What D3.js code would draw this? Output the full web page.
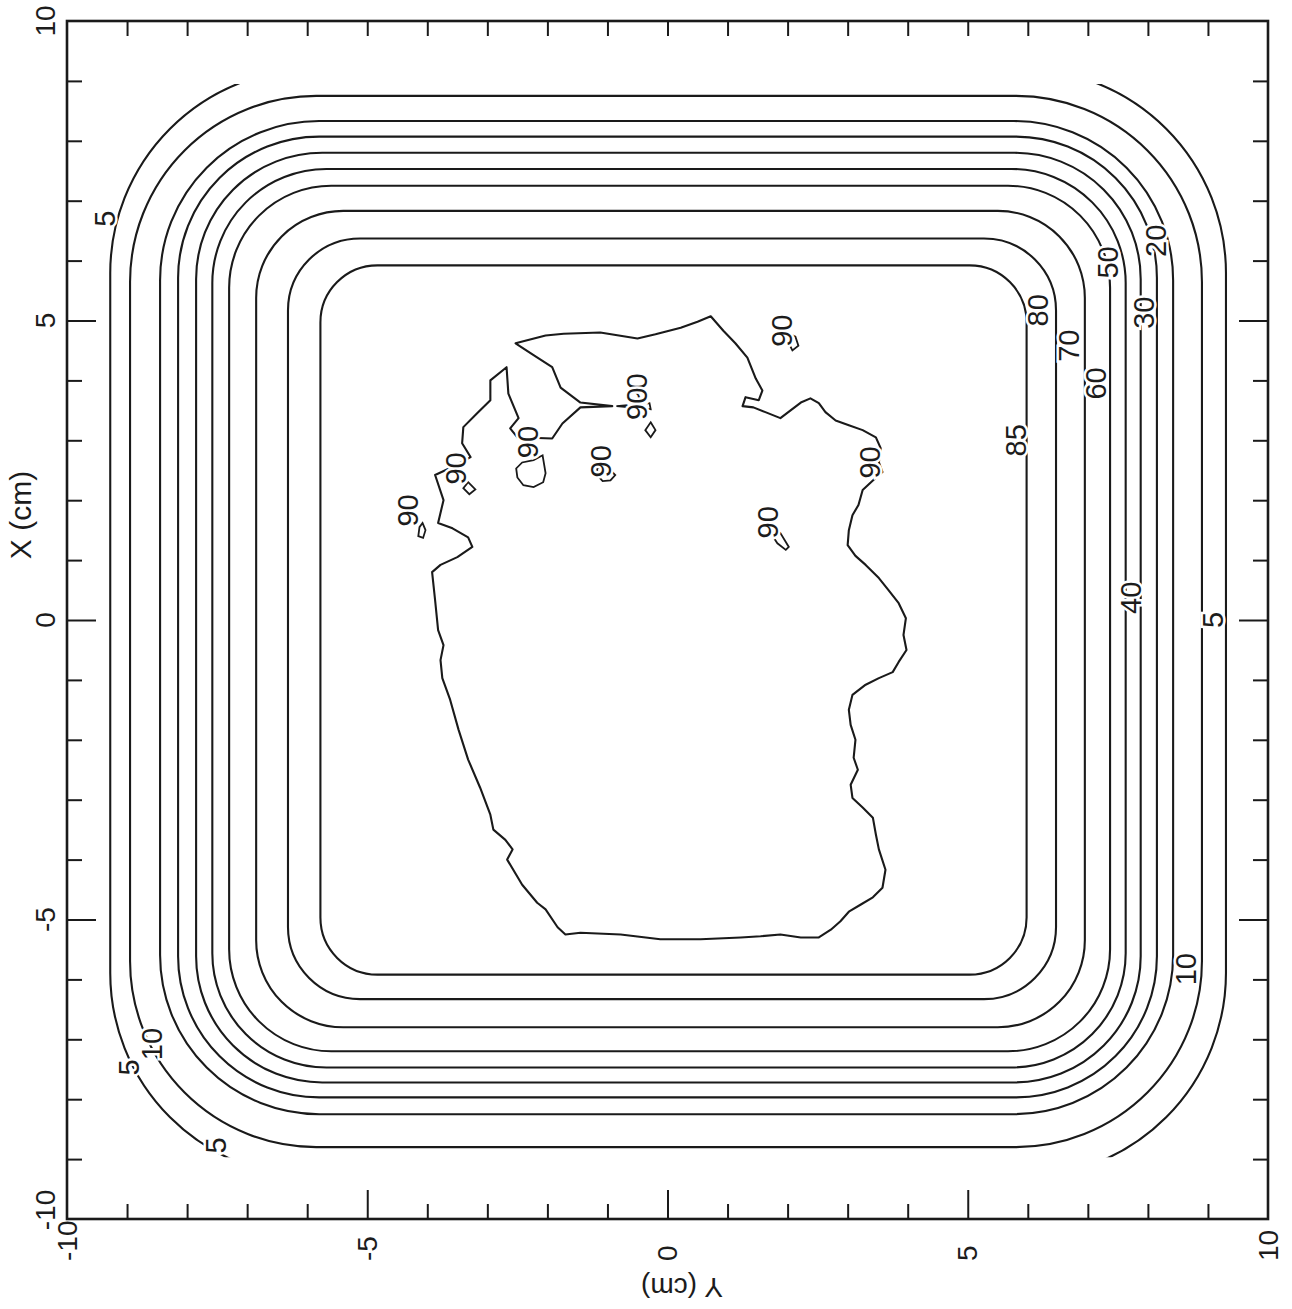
<!DOCTYPE html>
<html>
<head>
<meta charset="utf-8">
<script src="https://cdn.jsdelivr.net/npm/d3@7"></script>
<style>
  html, body { margin: 0; padding: 0; background: #fff; }
  svg { display: block; }
  text { font-family: "Liberation Sans", "DejaVu Sans", sans-serif; fill: #1c1c1c; }
</style>
</head>
<body>
<svg id="chart" width="1292" height="1309"></svg>
<script>
// ---------------- DATA (cm) ----------------
// Isodose levels (%), outermost first
const levels      = [5, 10, 20, 30, 40, 50, 60, 70, 80, 85];
// extents of each isodose line: Y (horizontal axis) left/right, X (vertical axis) top/bottom
const leftEdge    = [-9.28, -8.95, -8.45, -8.15, -7.85, -7.58, -7.30, -6.85, -6.32, -5.78];
const rightEdge   = [ 9.30,  8.90,  8.42,  8.15,  7.88,  7.63,  7.37,  6.95,  6.47,  5.98];
const topEdge     = [ 9.20,  8.75,  8.33,  8.07,  7.80,  7.53,  7.25,  6.83,  6.37,  5.92];
const bottomEdge  = [-9.30, -8.80, -8.25, -7.97, -7.72, -7.47, -7.20, -6.80, -6.33, -5.92];
const cornerRadius= [ 3.40,  3.10,  2.65,  2.35,  2.10,  1.90,  1.70,  1.45,  1.20,  0.95];
// extent of the measured grid along X (cm) – the 5 % line leaves it at top and bottom
const gridXRange  = [-8.97, 8.95];

// 90 % island, [Y, X] in cm
const island90 = [
  [-2.53,4.62],[-2.03,4.75],[-1.73,4.78],[-1.12,4.80],[-0.50,4.70],[-0.20,4.77],[0.22,4.88],[0.50,4.98],
  [0.72,5.07],[0.93,4.83],[1.13,4.62],[1.33,4.38],[1.47,4.03],[1.58,3.83],[1.52,3.67],[1.30,3.72],
  [1.25,3.57],[1.43,3.55],[1.63,3.47],[1.88,3.37],[2.05,3.50],[2.22,3.63],[2.38,3.70],[2.52,3.62],
  [2.63,3.47],[2.80,3.33],[3.02,3.25],[3.25,3.17],[3.47,3.05],[3.55,2.87],[3.52,2.63],[3.58,2.47],
  [3.42,2.33],[3.25,2.17],[3.18,1.92],[3.08,1.75],[3.02,1.50],[3.00,1.25],[3.13,1.07],[3.30,0.92],
  [3.52,0.70],[3.68,0.50],[3.85,0.28],[3.97,0.03],[3.93,-0.25],[3.98,-0.50],[3.85,-0.70],[3.75,-0.87],
  [3.52,-0.97],[3.30,-1.08],[3.08,-1.25],[3.02,-1.50],[3.05,-1.75],[3.13,-2.00],[3.10,-2.30],[3.17,-2.50],
  [3.05,-2.75],[3.08,-2.97],[3.25,-3.13],[3.42,-3.30],[3.47,-3.58],[3.52,-3.83],[3.63,-4.17],[3.58,-4.47],
  [3.42,-4.63],[3.22,-4.75],[3.02,-4.87],[2.88,-5.03],[2.72,-5.17],[2.52,-5.30],[2.22,-5.30],[1.88,-5.25],
  [1.55,-5.28],[1.22,-5.30],[0.55,-5.33],[-0.12,-5.33],[-0.78,-5.25],[-1.45,-5.22],[-1.70,-5.25],[-1.83,-5.13],
  [-2.03,-4.83],[-2.17,-4.72],[-2.42,-4.42],[-2.67,-4.00],[-2.58,-3.83],[-2.70,-3.67],[-2.90,-3.50],[-2.95,-3.25],
  [-3.12,-2.80],[-3.32,-2.33],[-3.48,-1.83],[-3.62,-1.33],[-3.75,-0.97],[-3.78,-0.67],[-3.73,-0.42],[-3.82,-0.17],
  [-3.87,0.33],[-3.92,0.80],[-3.78,0.92],[-3.50,1.05],[-3.25,1.22],[-3.32,1.38],[-3.58,1.53],[-3.82,1.62],
  [-3.73,2.00],[-3.87,2.42],[-3.53,2.58],[-3.28,2.72],[-3.42,2.95],[-3.40,3.22],[-3.17,3.45],[-2.95,3.67],
  [-2.95,4.00],[-2.68,4.22],[-2.65,3.78],[-2.48,3.37],[-2.62,3.20],[-2.50,3.05],[-1.92,3.03],[-1.75,3.28],
  [-1.45,3.55],[-0.92,3.57],[-1.45,3.63],[-1.78,3.88],[-1.92,4.22],[-2.23,4.42]
];
// small 90 % islets, [Y, X] in cm
const islets90 = [
  [[2.02,4.78],[2.13,4.73],[2.18,4.58],[2.08,4.50],[2.02,4.62]],
  [[-0.28,3.30],[-0.20,3.17],[-0.28,3.05],[-0.37,3.17]],
  [[-2.08,2.75],[-2.03,2.45],[-2.07,2.30],[-2.23,2.22],[-2.40,2.25],[-2.50,2.38],[-2.52,2.53],[-2.42,2.63],[-2.23,2.67]],
  [[-1.17,2.55],[-0.98,2.53],[-0.87,2.42],[-0.95,2.33],[-1.08,2.32],[-1.17,2.42]],
  [[-3.32,2.30],[-3.20,2.18],[-3.30,2.10],[-3.40,2.20]],
  [[-4.08,1.62],[-4.03,1.50],[-4.07,1.37],[-4.15,1.40],[-4.13,1.55]],
  [[1.75,1.55],[1.88,1.45],[2.02,1.22],[1.97,1.17],[1.83,1.28],[1.72,1.45]],
  [[-0.85,3.57],[-0.30,3.62],[-0.28,3.52]]
];

// contour labels: text, Y, X (cm)
const labelText = ["5","20","50","30","80","70","60","85","40","5","10","10","5","5",
                   "90","90","90","90","90","90","90","90","90"];
const labelY    = [-9.37, 8.13, 7.33, 7.93, 6.17, 6.68, 7.13, 5.80, 7.72, 9.08, 8.63, -8.58, -8.97, -7.52,
                    1.90, -0.50, -0.50, -2.32, -3.52, -1.10, -4.32, 3.38, 1.68];
const labelX    = [ 6.70, 6.33, 5.97, 5.13, 5.17, 4.58, 3.95, 3.00, 0.37, 0.00, -5.83, -7.08, -7.47, -8.77,
                    4.83, 3.85, 3.61, 2.97, 2.53, 2.65, 1.83, 2.63, 1.63];

const tickValues  = d3.range(-10, 11, 1);
const majorTicks  = [-5, 0, 5];
const tickLabels  = [-10, -5, 0, 5, 10];
const xTitle = "X (cm)";
const yTitle = "Y (cm)";

// ---------------- LAYOUT ----------------
const svg = d3.select("#chart");
const plot = {left: 67, right: 1268, top: 21, bottom: 1219};
const sx = d3.scaleLinear().domain([-10, 10]).range([plot.left, plot.right]);   // Y (cm) horizontal
const sy = d3.scaleLinear().domain([-10, 10]).range([plot.bottom, plot.top]);   // X (cm) vertical
const ink = "#1a1a1a";

// clip for the measured grid (5 % line is open)
svg.append("defs").append("clipPath").attr("id", "grid")
  .append("rect")
  .attr("x", sx(-10)).attr("width", sx(10) - sx(-10))
  .attr("y", sy(gridXRange[1])).attr("height", sy(gridXRange[0]) - sy(gridXRange[1]));

// rounded isodose lines
const gC = svg.append("g").attr("fill", "none").attr("stroke", ink).attr("stroke-width", 2.1);
levels.forEach((lev, i) => {
  const L = leftEdge[i], R = rightEdge[i], T = topEdge[i], B = bottomEdge[i], r = cornerRadius[i];
  const rp = sx(r) - sx(0);
  const p = d3.path();
  p.moveTo(sx(L + r), sy(T));
  p.lineTo(sx(R - r), sy(T));
  p.arcTo(sx(R), sy(T), sx(R), sy(T - r), rp);
  p.lineTo(sx(R), sy(B + r));
  p.arcTo(sx(R), sy(B), sx(R - r), sy(B), rp);
  p.lineTo(sx(L + r), sy(B));
  p.arcTo(sx(L), sy(B), sx(L), sy(B + r), rp);
  p.lineTo(sx(L), sy(T - r));
  p.arcTo(sx(L), sy(T), sx(L + r), sy(T), rp);
  p.closePath();
  const el = gC.append("path").attr("d", p.toString()).attr("class", "iso-" + lev);
  if (lev === 5) el.attr("clip-path", "url(#grid)");
});

const line = d3.line().x(d => sx(d[0])).y(d => sy(d[1])).curve(d3.curveLinearClosed);
gC.append("path").attr("d", line(island90)).attr("stroke-linejoin", "round");
islets90.forEach(pts => gC.append("path").attr("d", line(pts)).attr("stroke-width", 1.8));

// contour labels
const gL = svg.append("g");
labelText.forEach((t, i) => {
  gL.append("text")
    .attr("transform", `translate(${sx(labelY[i])},${sy(labelX[i])}) rotate(-90)`)
    .attr("text-anchor", "middle").attr("dominant-baseline", "central")
    .attr("font-size", 29)
    .attr("stroke", "#fff").attr("stroke-width", 5).attr("paint-order", "stroke")
    .text(t);
});

// axes (ticks pointing inward)
const gA = svg.append("g");
function addAxis(gen, tr, vals, len) {
  const g = gA.append("g").attr("transform", tr)
    .call(gen.tickValues(vals).tickSize(-len).tickFormat(""));
  g.select(".domain").remove();
  g.selectAll("line").attr("stroke", ink).attr("stroke-width", 2);
}
const minor = tickValues.filter(v => !majorTicks.includes(v) && Math.abs(v) !== 10);
addAxis(d3.axisBottom(sx), `translate(0,${plot.bottom})`, minor, 15);
addAxis(d3.axisBottom(sx), `translate(0,${plot.bottom})`, majorTicks, 29);
addAxis(d3.axisTop(sx), `translate(0,${plot.top})`, minor, 15);
addAxis(d3.axisTop(sx), `translate(0,${plot.top})`, majorTicks, 15);
addAxis(d3.axisLeft(sy), `translate(${plot.left},0)`, minor, 15);
addAxis(d3.axisLeft(sy), `translate(${plot.left},0)`, majorTicks, 29);
addAxis(d3.axisRight(sy), `translate(${plot.right},0)`, minor, 15);
addAxis(d3.axisRight(sy), `translate(${plot.right},0)`, majorTicks, 29);

gA.append("rect")
  .attr("x", plot.left).attr("y", plot.top)
  .attr("width", plot.right - plot.left).attr("height", plot.bottom - plot.top)
  .attr("fill", "none").attr("stroke", ink).attr("stroke-width", 2.6);

// tick labels (rotated)
tickLabels.forEach(v => {
  gA.append("text")
    .attr("transform", `translate(45,${sy(v) + (v === -10 ? -9 : 0)}) rotate(-90)`)
    .attr("text-anchor", "middle").attr("dominant-baseline", "central")
    .attr("font-size", 28).text(String(v));
  gA.append("text")
    .attr("transform", `translate(${sx(v)},${plot.bottom + 42}) rotate(-90)`)
    .attr("text-anchor", "start").attr("dominant-baseline", "central")
    .attr("font-size", 28).text(String(v));
});

// axis titles
gA.append("text")
  .attr("transform", `translate(20,515) rotate(-90)`)
  .attr("text-anchor", "middle").attr("dominant-baseline", "central")
  .attr("font-size", 30).text(xTitle);
gA.append("text")
  .attr("transform", `translate(682,1287) rotate(180)`)
  .attr("text-anchor", "middle").attr("dominant-baseline", "central")
  .attr("font-size", 28).text(yTitle);
</script>
</body>
</html>
